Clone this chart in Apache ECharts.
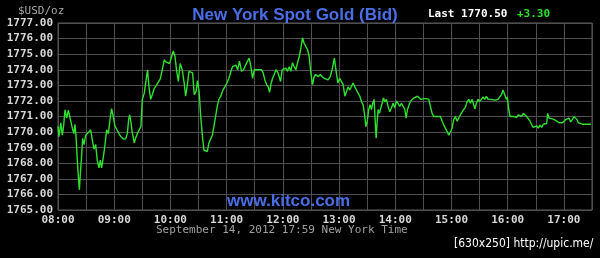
<!DOCTYPE html>
<html><head><meta charset="utf-8">
<script src="https://cdn.jsdelivr.net/npm/echarts@6/dist/echarts.min.js"></script>
<style>html,body{margin:0;padding:0;background:#000;}#c{width:600px;height:258px;}</style>
</head><body><div id="c"></div>
<script>
// minutes after 08:00 (New York time)
const minutes = [0,1,3,4.6,6,7.5,9.3,11,12.9,15.3,16.9,18.1,19.2,20.6,21.7,22.8,23.9,24.9,26.3,27.8,29.5,31.3,33,34.8,36.6,38.4,40.2,41.9,43.7,45.2,46.6,48.4,50.2,51.9,53.7,55.5,57.2,59,60.7,62.9,65.1,67.2,69.7,72.2,74,75.4,76.5,77.9,79.2,81.4,82.8,84.6,86.7,88.5,90,92.1,94.2,95.6,97.1,98.9,100.6,102.7,104.9,107,109.1,111.3,113.5,114.9,117,119.1,121.3,123.1,124.9,126.5,128.4,130.4,132.6,134.8,136.2,138,139.8,141.9,143.7,145.4,147.3,148.9,150.7,152.1,153.9,155.7,157.5,159.3,161.1,162.9,164.7,166.4,168.2,170,171.7,173.8,176,178.1,180.3,182.4,184.6,186.3,188.1,189.9,191.7,193.7,195.9,198.1,200.2,202.3,204.1,205.9,207.7,209.5,212,214.5,217.2,219,220.8,222.6,224.4,225.8,227.2,229,230.8,232.6,234.4,236.1,237.6,239.3,241.4,243.2,245,246.8,248.5,250.3,252.1,253.9,255.7,257.5,259.3,261,262.7,264.5,266.3,268.1,269.9,271.7,273.4,275.2,277.7,279.9,282,284.2,286.2,288.3,290.5,292.6,295,296.9,298.7,300.7,302.6,304.4,306.2,308,309.7,311.5,313.2,315,316.8,318.6,320.4,322.2,324,325.7,327.5,328.6,330,331.7,333.1,334.6,336,337.4,338.5,339.6,340.6,341.7,343.1,344.6,346,347.4,348.9,350.6,352.3,354.1,355.9,357.7,359.5,361.3,363,364.8,366.6,368.4,370.2,371.6,373,374.8,376.5,378.3,380.1,381.9,383.7,385.4,387.2,389,390.8,393.3,395.8,397.5,399.3,401.1,402.8,404.6,406.4,408.2,410,411.8,413.6,415.3,417.1,418.9,420.7,422.4,424.2,426,427.7,429.5,431.3,433.1,434.9,436.7,438.5,440.2,442,443.7,445,446.6,448.4,450.1,451.9,453.7,455.5,457.3,459.1,460.9,462.6,464.4,466.2,467.9,469.7,471.5,473.3,475,476.8,478.6,479.7,481.1,482.5,484.3,486.1,487.8,489.6,491.4,493.2,494.9,496.7,498.5,500.3,502.1,503.9,505.7,507.4,509.2,511,512.7,514.5,516.3,518.1,519.8,521.6,522.7,524.1,525.9,527.7,529.5,531.3,533,534.8,536.5,538.3,540.1,541.9,543.7,545.5,547.2,549,550.8,552.6,554,555.4,557.5,560.4,563.9,568.9];
const bids = [1770.36,1769.7,1770.6,1769.8,1770.4,1771.43,1770.9,1771.4,1770.9,1770.25,1769.9,1770.5,1769.8,1768.2,1767.15,1766.3,1767.4,1768.2,1769.6,1769.2,1769.8,1769.9,1770.0,1770.15,1769.5,1768.9,1769.2,1768.2,1767.7,1768.2,1767.7,1768.4,1769.2,1770.15,1769.9,1770.8,1771.5,1771.0,1770.4,1770.15,1769.9,1769.7,1769.55,1769.55,1769.9,1770.8,1771.1,1770.6,1770.0,1769.3,1769.6,1769.9,1770.15,1770.35,1772.1,1772.5,1773.4,1774.0,1772.9,1772.1,1772.4,1772.8,1773.0,1772.9,1773.4,1774.0,1774.65,1774.5,1774.55,1774.4,1774.85,1775.2,1774.85,1774.0,1773.25,1774.4,1774.0,1773.1,1772.3,1773.0,1773.9,1773.95,1773.8,1772.4,1772.6,1773.3,1772.55,1771.2,1769.9,1768.85,1768.95,1768.75,1769.3,1769.2,1769.8,1770.35,1771.0,1771.65,1772.1,1772.3,1772.7,1772.9,1773.15,1773.45,1773.9,1774.2,1774.1,1774.3,1774.0,1774.55,1773.9,1774.0,1774.3,1774.55,1774.75,1774.2,1773.45,1774.0,1774.0,1774.0,1774.0,1773.8,1773.35,1773.05,1772.9,1772.55,1773.05,1773.45,1773.7,1774.0,1773.85,1773.55,1773.25,1774.0,1773.9,1774.1,1773.9,1774.2,1773.9,1774.45,1774.2,1774.0,1774.45,1774.85,1775.4,1776.05,1775.7,1775.5,1775.3,1774.85,1773.8,1773.05,1773.55,1773.7,1773.55,1773.7,1773.55,1773.45,1773.55,1773.35,1773.55,1774.0,1774.75,1773.9,1773.15,1773.45,1773.35,1773.05,1772.3,1772.6,1772.9,1772.7,1772.6,1773.15,1772.9,1772.7,1772.5,1772.3,1771.95,1771.75,1771.0,1770.35,1770.65,1771.45,1771.75,1771.45,1771.85,1772.1,1770.8,1769.6,1770.6,1771.45,1771.2,1771.55,1771.85,1772.2,1771.95,1772.1,1771.65,1771.3,1771.55,1771.85,1771.55,1772.0,1772.1,1771.65,1771.85,1771.65,1771.45,1770.9,1771.45,1771.75,1772.0,1772.1,1772.2,1772.1,1772.3,1772.2,1772.1,1772.0,1772.15,1772.15,1772.1,1771.65,1771.2,1771.0,1770.9,1771.0,1770.9,1771.0,1770.7,1770.45,1770.35,1770.05,1769.8,1769.9,1770.25,1770.8,1771.0,1770.7,1770.9,1771.1,1771.2,1771.45,1771.6,1771.95,1772.1,1771.85,1772.1,1771.75,1771.5,1771.85,1772.1,1771.95,1772.1,1772.25,1772.1,1772.3,1772.1,1772.2,1772.1,1772.2,1772.05,1772.1,1772.1,1772.2,1772.4,1772.7,1772.4,1772.1,1772.25,1771.45,1771.0,1770.9,1771.0,1770.9,1770.95,1771.1,1771.2,1771.0,1771.2,1771.1,1771.0,1770.9,1770.7,1770.45,1770.3,1770.25,1770.4,1770.25,1770.45,1770.3,1770.5,1770.4,1770.55,1771.2,1770.9,1770.9,1770.85,1770.8,1770.75,1770.65,1770.6,1770.55,1770.6,1770.7,1770.8,1770.7,1770.9,1770.65,1770.8,1771.0,1771.05,1770.8,1770.6,1770.5,1770.5,1770.5,1770.5];
const hourLabels = ['08:00','09:00','10:00','11:00','12:00','13:00','14:00','15:00','16:00','17:00'];
const yTicks = {min:1765, max:1777, step:1};
const titleText = 'New York Spot Gold (Bid)';
const unitText = '$USD/oz';
const lastText = 'Last 1770.50';
const changeText = '+3.30';
const dateText = 'September 14, 2012 17:59 New York Time';
const siteText = 'www.kitco.com';
const stampText = '[630x250] http://upic.me/';

const chart = echarts.init(document.getElementById('c'), null, {renderer:'canvas'});
const mono = 'DejaVu Sans Mono';
const gridCol = '#505050';
chart.setOption({
  backgroundColor:'#000',
  animation:false,
  title:{text:titleText, left:290, top:2, textAlign:'center',
    textStyle:{color:'#4a6ee6', fontFamily:'Liberation Sans', fontWeight:'bold', fontSize:17}},
  grid:{left:58, right:8, top:23, bottom:48, show:true, borderColor:'#5a5a5a', borderWidth:1},
  xAxis:{type:'value', min:0, max:570, interval:30,
    axisLine:{show:false}, axisTick:{show:false},
    splitLine:{show:true, lineStyle:{color:gridCol, width:1}},
    axisLabel:{color:'#d8d8d8', fontFamily:mono, fontWeight:'bold', fontSize:11, margin:5,
      showMaxLabel:false,
      formatter:function(v){ return (v % 60 === 0) ? (hourLabels[v/60] || '') : ''; }}},
  yAxis:{type:'value', min:yTicks.min, max:yTicks.max, interval:yTicks.step,
    axisLine:{show:false}, axisTick:{show:false},
    splitLine:{show:true, lineStyle:{color:gridCol, width:1}},
    axisLabel:{color:'#d8d8d8', fontFamily:mono, fontWeight:'bold', fontSize:11, margin:5,
      formatter:function(v){ return v.toFixed(2); }}},
  series:[{type:'line', data:minutes.map((m,i)=>[m,bids[i]]), showSymbol:false,
    lineStyle:{color:'#2fe02f', width:1.4}, itemStyle:{color:'#2fe02f'}, z:3}],
  graphic:[
    {type:'text', left:18, top:6, style:{text:unitText, fill:'#a8a8a8', font:'11px "DejaVu Sans Mono"'}},
    {type:'text', left:428, top:9, style:{text:lastText, fill:'#ffffff', font:'bold 11px "DejaVu Sans Mono"'}},
    {type:'text', left:517, top:9, style:{text:changeText, fill:'#2fe02f', font:'bold 11px "DejaVu Sans Mono"'}},
    {type:'text', left:156, top:225, style:{text:dateText, fill:'#a0a0a0', font:'11px "DejaVu Sans Mono"'}},
    {type:'text', left:227, top:193, z:10, style:{text:siteText, fill:'#4a6ee6', font:'bold 17px "Liberation Sans"'}},
    {type:'text', left:454, top:238, style:{text:stampText, fill:'#ffffff', font:'12px "DejaVu Sans Condensed", "DejaVu Sans"'}}
  ]
});
</script></body></html>
